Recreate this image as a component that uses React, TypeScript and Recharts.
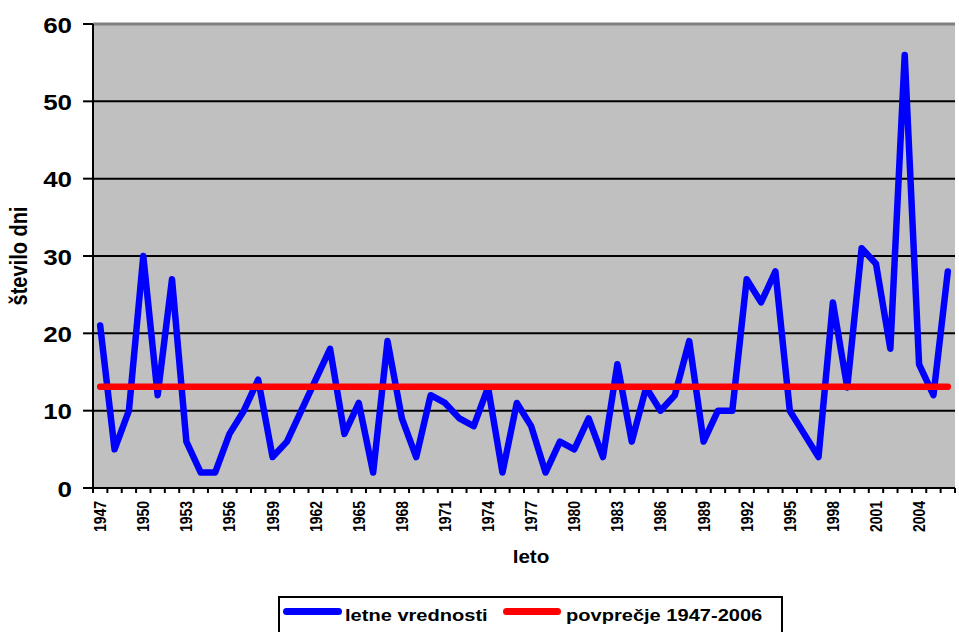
import { LineChart, Line, XAxis, YAxis, CartesianGrid, ReferenceLine, Legend } from "recharts";

const years = [
  1947, 1948, 1949, 1950, 1951, 1952, 1953, 1954, 1955, 1956,
  1957, 1958, 1959, 1960, 1961, 1962, 1963, 1964, 1965, 1966,
  1967, 1968, 1969, 1970, 1971, 1972, 1973, 1974, 1975, 1976,
  1977, 1978, 1979, 1980, 1981, 1982, 1983, 1984, 1985, 1986,
  1987, 1988, 1989, 1990, 1991, 1992, 1993, 1994, 1995, 1996,
  1997, 1998, 1999, 2000, 2001, 2002, 2003, 2004, 2005, 2006,
];

const days = [
  21, 5, 10, 30, 12, 27, 6, 2, 2, 7,
  10, 14, 4, 6, 10, 14, 18, 7, 11, 2,
  19, 9, 4, 12, 11, 9, 8, 13, 2, 11,
  8, 2, 6, 5, 9, 4, 16, 6, 13, 10,
  12, 19, 6, 10, 10, 27, 24, 28, 10, 7,
  4, 24, 13, 31, 29, 18, 56, 16, 12, 28,
];

// average 1947-2006
const average = 13.1;

const yTicks = [0, 10, 20, 30, 40, 50, 60];

const FONT = "'Liberation Sans', Arial, sans-serif";
const STRETCH = 1.18; // source picture is slightly stretched horizontally
const W = 959;
const H = 632;
const MARGIN = { top: 24, right: 4, bottom: 64, left: 33 };
const BAND = (W - MARGIN.left - 60 - MARGIN.right) / years.length;

const data = years.map((year, i) => ({ year, days: days[i], avg: average }));

function YTick({ x, y, payload }: any) {
  return (
    <text
      transform={`translate(${x},${y}) scale(${STRETCH},1)`}
      textAnchor="end"
      dy="0.4em"
      fontSize={22}
      fontWeight="bold"
      fontFamily={FONT}
      fill="#000"
    >
      {payload.value}
    </text>
  );
}

function XTick({ x, y, payload, index }: any) {
  const half = BAND / 2;
  const last = index === years.length - 1;
  return (
    <g>
      <line x1={x - half} x2={x - half} y1={y} y2={y + 5} stroke="#000" strokeWidth={2} />
      {last && <line x1={x + half} x2={x + half} y1={y} y2={y + 5} stroke="#000" strokeWidth={2} />}
      {index % 3 === 0 && (
        <text
          transform={`translate(${x},${y + 13}) scale(${STRETCH},1) rotate(-90)`}
          textAnchor="end"
          dy="0.36em"
          fontSize={14}
          fontWeight="bold"
          fontFamily={FONT}
          fill="#000"
        >
          {payload.value}
        </text>
      )}
    </g>
  );
}

function XTitle() {
  return (
    <text
      transform={`translate(531,563) scale(${STRETCH},1)`}
      textAnchor="middle"
      fontSize={17.5}
      fontWeight="bold"
      fontFamily={FONT}
      fill="#000"
    >
      leto
    </text>
  );
}

function YTitle() {
  return (
    <text
      transform={`translate(27,256) scale(${STRETCH},1) rotate(-90)`}
      textAnchor="middle"
      fontSize={20}
      fontWeight="bold"
      fontFamily={FONT}
      fill="#000"
    >
      število dni
    </text>
  );
}

const legendText = {
  position: "absolute" as const,
  top: 9,
  lineHeight: "17px",
  whiteSpace: "nowrap" as const,
  transform: `scaleX(${STRETCH})`,
  transformOrigin: "left center",
};

function LegendBox() {
  return (
    <div
      style={{
        position: "relative",
        width: 505,
        height: 44,
        border: "2px solid #000",
        boxSizing: "border-box",
        background: "#fff",
        fontFamily: FONT,
        fontWeight: "bold",
        fontSize: 17,
        color: "#000",
      }}
    >
      <span style={{ position: "absolute", left: 3, top: 10, width: 59, height: 7, borderRadius: 4, background: "#0000FF" }} />
      <span style={{ ...legendText, left: 65 }}>letne vrednosti</span>
      <span style={{ position: "absolute", left: 223, top: 10, width: 58, height: 7, borderRadius: 4, background: "#FF0000" }} />
      <span style={{ ...legendText, left: 286 }}>povprečje 1947-2006</span>
    </div>
  );
}

export default function App() {
  return (
    <div style={{ position: "absolute", left: 0, top: 0, width: W, height: H, background: "#fff" }}>
      <LineChart width={W} height={H} data={data} margin={MARGIN}>
        <CartesianGrid vertical={false} stroke="#000" strokeWidth={2} fill="#C0C0C0" fillOpacity={1} />
        <ReferenceLine y={60} stroke="#808080" strokeWidth={3} />
        <XAxis
          dataKey="year"
          interval={0}
          padding={{ left: BAND / 2, right: BAND / 2 }}
          tick={<XTick />}
          tickLine={false}
          tickSize={0}
          tickMargin={0}
          height={80}
          axisLine={{ stroke: "#000", strokeWidth: 2 }}
          label={<XTitle />}
        />
        <YAxis
          domain={[0, 60]}
          ticks={yTicks}
          interval={0}
          width={60}
          tick={<YTick />}
          tickSize={10}
          tickMargin={11}
          tickLine={{ stroke: "#000", strokeWidth: 2 }}
          axisLine={{ stroke: "#000", strokeWidth: 2 }}
          label={<YTitle />}
        />
        <Legend
          layout="horizontal"
          verticalAlign="middle"
          align="center"
          content={<LegendBox />}
          wrapperStyle={{ top: 596, left: 278, width: 505, height: 44 }}
        />
        <Line
          type="linear"
          dataKey="days"
          name="letne vrednosti"
          stroke="#0000FF"
          strokeWidth={6.5}
          strokeLinejoin="round"
          strokeLinecap="round"
          dot={false}
          activeDot={false}
          isAnimationActive={false}
        />
        <Line
          type="linear"
          dataKey="avg"
          name="povprečje 1947-2006"
          stroke="#FF0000"
          strokeWidth={6.5}
          strokeLinecap="round"
          dot={false}
          activeDot={false}
          isAnimationActive={false}
        />
      </LineChart>
    </div>
  );
}
